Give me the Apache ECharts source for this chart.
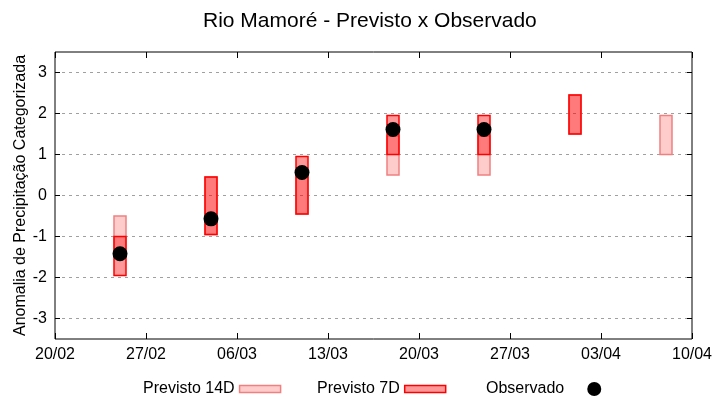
<!DOCTYPE html>
<html>
<head>
<meta charset="utf-8">
<script src="https://cdn.jsdelivr.net/npm/echarts@6/dist/echarts.min.js"></script>
<style>html,body{margin:0;padding:0;background:#fff;}#c{width:720px;height:400px;}</style>
</head>
<body>
<div id="c"></div>
<script>
// ---- data ----
var startDate = '20/02';
var tickLabels = ['20/02', '27/02', '06/03', '13/03', '20/03', '27/03', '03/04', '10/04'];
var dates = ['25/02', '04/03', '11/03', '18/03', '25/03', '01/04', '08/04'];
var prev14Low  = [-1.45, -0.95, -0.45, 0.5, 0.5, 1.5, 1.0];
var prev14High = [-0.5, 0.45, 0.5, 1.45, 1.45, 2.45, 1.95];
var prev7Low   = [-1.95, -0.95, -0.45, 1.0, 1.0, 1.5, null];
var prev7High  = [-1.0, 0.45, 0.95, 1.95, 1.95, 2.45, null];
var observed   = [-1.42, -0.57, 0.56, 1.61, 1.61, null, null];
var yTicks = [-3, -2, -1, 0, 1, 2, 3];

function dayOffset(s) {
  var p = s.split('/'), q = startDate.split('/');
  var a = Date.UTC(2023, +p[1] - 1, +p[0]);
  var b = Date.UTC(2023, +q[1] - 1, +q[0]);
  return Math.round((a - b) / 86400000);
}
var xs = dates.map(dayOffset);
var xMax = dayOffset(tickLabels[tickLabels.length - 1]);

function rangeData(lo, hi) {
  var out = [];
  for (var i = 0; i < xs.length; i++) {
    if (lo[i] != null && hi[i] != null) out.push([xs[i], lo[i], hi[i]]);
  }
  return out;
}
function pointData(v) {
  var out = [];
  for (var i = 0; i < xs.length; i++) if (v[i] != null) out.push([xs[i], v[i]]);
  return out;
}

var c14 = { fill: 'rgba(255,0,0,0.2)', stroke: '#f08080' };
var c7 = { fill: 'rgba(255,0,0,0.4)', stroke: '#ff0000' };

function makeRender(col) {
  return function (params, api) {
    var x = api.value(0);
    var p1 = api.coord([x, api.value(2)]);
    var p2 = api.coord([x, api.value(1)]);
    var w = 12;
    return {
      type: 'rect',
      shape: { x: p1[0] - w / 2, y: p1[1], width: w, height: p2[1] - p1[1] },
      style: { fill: col.fill, stroke: col.stroke, lineWidth: 1.5 }
    };
  };
}

var font = 'Liberation Sans, Arial, sans-serif';
var chart = echarts.init(document.getElementById('c'));
var legendBase = {
  orient: 'horizontal', align: 'right', top: 381, padding: 0,
  textStyle: { fontFamily: font, fontSize: 16, color: '#000' },
  selectedMode: false
};
var tickStyle = { show: true, inside: true, length: 6, lineStyle: { color: '#000' } };
chart.setOption({
  animation: false,
  backgroundColor: '#fff',
  title: {
    text: 'Rio Mamoré - Previsto x Observado',
    left: 203, top: 11, padding: 0,
    textStyle: { fontFamily: font, fontSize: 21, fontWeight: 'normal', color: '#000' }
  },
  grid: { left: 55, right: 28, top: 52, bottom: 61, show: true, borderColor: '#000', borderWidth: 1, backgroundColor: 'transparent' },
  legend: [
    Object.assign({}, legendBase, { left: 143, itemWidth: 41, itemHeight: 7,
      data: [{ name: 'Previsto 14D', icon: 'rect', itemStyle: { color: c14.fill, borderColor: c14.stroke, borderWidth: 1.5 } }] }),
    Object.assign({}, legendBase, { left: 317, itemWidth: 41, itemHeight: 7,
      data: [{ name: 'Previsto 7D', icon: 'rect', itemStyle: { color: c7.fill, borderColor: c7.stroke, borderWidth: 1.5 } }] }),
    Object.assign({}, legendBase, { left: 486, itemWidth: 50, itemHeight: 14,
      data: [{ name: 'Observado', icon: 'circle', itemStyle: { color: '#000', opacity: 1 } }] })
  ],
  xAxis: [{
    type: 'value', min: 0, max: xMax, interval: 7,
    axisLine: { show: false, onZero: false },
    axisTick: tickStyle,
    splitLine: { show: false },
    axisLabel: {
      margin: 8, fontFamily: font, fontSize: 16, color: '#000',
      formatter: function (v) { return tickLabels[Math.round(v / 7)] || ''; }
    }
  }, {
    type: 'value', position: 'top', min: 0, max: xMax, interval: 7,
    axisLine: { show: false, onZero: false },
    axisTick: tickStyle,
    splitLine: { show: false }, axisLabel: { show: false }
  }],
  yAxis: [{
    type: 'value', min: -3.5, max: 3.5,
    name: 'Anomalia de Precipitação Categorizada', nameLocation: 'middle', nameGap: 26,
    nameMoveOverlap: false,
    nameTextStyle: { fontFamily: font, fontSize: 16, color: '#000' },
    axisLine: { show: false, onZero: false },
    axisTick: { show: true, inside: true, length: 5, customValues: yTicks, lineStyle: { color: '#000' } },
    splitLine: { show: true, lineStyle: { color: '#a0a0a0', type: [3, 4], width: 1 } },
    axisLabel: { customValues: yTicks, margin: 8, fontFamily: font, fontSize: 16, color: '#000' }
  }, {
    type: 'value', position: 'right', min: -3.5, max: 3.5,
    axisLine: { show: false, onZero: false },
    axisTick: { show: true, inside: true, length: 5, customValues: yTicks, lineStyle: { color: '#000' } },
    splitLine: { show: false }, axisLabel: { show: false }
  }],
  series: [{
    name: 'Previsto 14D', type: 'custom', renderItem: makeRender(c14),
    itemStyle: { color: c14.fill, borderColor: c14.stroke },
    encode: { x: 0, y: [1, 2] }, data: rangeData(prev14Low, prev14High), z: 2
  }, {
    name: 'Previsto 7D', type: 'custom', renderItem: makeRender(c7),
    itemStyle: { color: c7.fill, borderColor: c7.stroke },
    encode: { x: 0, y: [1, 2] }, data: rangeData(prev7Low, prev7High), z: 3
  }, {
    name: 'Observado', type: 'scatter', symbol: 'circle', symbolSize: 15,
    itemStyle: { color: '#000', opacity: 1 }, data: pointData(observed), z: 4
  }]
});
</script>
</body>
</html>
